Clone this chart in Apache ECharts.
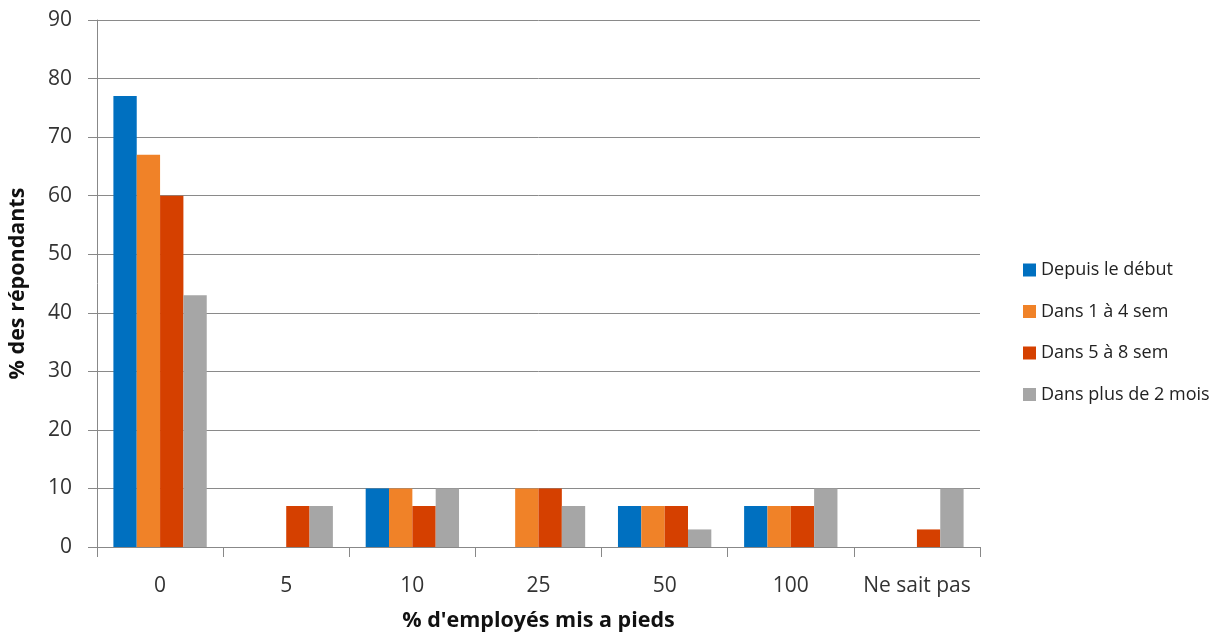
<!DOCTYPE html>
<html>
<head>
<meta charset="utf-8">
<script src="https://cdn.jsdelivr.net/npm/echarts@6/dist/echarts.min.js"></script>
<style>
  html, body { margin: 0; padding: 0; background: #fff; }
  #chart { width: 1220px; height: 639px; }
</style>
</head>
<body>
<div id="chart"></div>
<script>
// Share of laid-off employees (x) vs. share of respondents (y), by time horizon
const categories = ['0', '5', '10', '25', '50', '100', 'Ne sait pas'];
const seriesNames = ['Depuis le début', 'Dans 1 à 4 sem', 'Dans 5 à 8 sem', 'Dans plus de 2 mois'];
const depuisLeDebut = [77, 0, 10, 0, 7, 7, 0];
const dans1a4sem   = [67, 0, 10, 10, 7, 7, 0];
const dans5a8sem   = [60, 7, 7, 10, 7, 7, 3];
const plusDe2mois  = [43, 7, 10, 7, 3, 10, 10];
const yTicks = { min: 0, max: 90, interval: 10 };

const colors = ['#0070C0', '#F08228', '#D54000', '#A6A6A6'];
const values = [depuisLeDebut, dans1a4sem, dans5a8sem, plusDe2mois];
const font = '"Open Sans", "Liberation Sans", sans-serif';

const chart = echarts.init(document.getElementById('chart'), null, { renderer: 'canvas' });
chart.setOption({
  animation: false,
  color: colors,
  grid: { left: 97, right: 240, top: 20, bottom: 92, containLabel: false, outerBoundsMode: 'none' },
  legend: {
    orient: 'vertical',
    left: 1018,
    top: 256,
    itemWidth: 13,
    itemHeight: 13,
    itemGap: 23.5,
    icon: 'rect',
    textStyle: { fontFamily: font, fontSize: 18, color: '#222' },
    data: seriesNames
  },
  xAxis: {
    type: 'category',
    data: categories,
    name: "% d'employés mis a pieds",
    nameLocation: 'middle',
    nameGap: 63,
    nameTextStyle: { fontFamily: font, fontSize: 21.5, fontWeight: 'bold', color: '#111' },
    axisLine: { lineStyle: { color: '#888', width: 1 } },
    axisTick: { show: true, length: 10, lineStyle: { color: '#888' } },
    axisLabel: { fontFamily: font, fontSize: 21, color: '#333', margin: 29, interval: 0 }
  },
  yAxis: {
    type: 'value',
    min: yTicks.min,
    max: yTicks.max,
    interval: yTicks.interval,
    name: '% des répondants',
    nameLocation: 'middle',
    nameGap: 68,
    nameTextStyle: { fontFamily: font, fontSize: 21.5, fontWeight: 'bold', color: '#111' },
    axisLine: { show: true, lineStyle: { color: '#888', width: 1 } },
    axisTick: { show: true, length: 9, lineStyle: { color: '#888' } },
    axisLabel: { fontFamily: font, fontSize: 21, color: '#333', margin: 25 },
    splitLine: { show: true, lineStyle: { color: '#8a8a8a', width: 1 } }
  },
  series: seriesNames.map((name, i) => ({
    name,
    type: 'bar',
    data: values[i],
    barGap: '0%',
    barCategoryGap: '26%'
  }))
});
</script>
</body>
</html>
